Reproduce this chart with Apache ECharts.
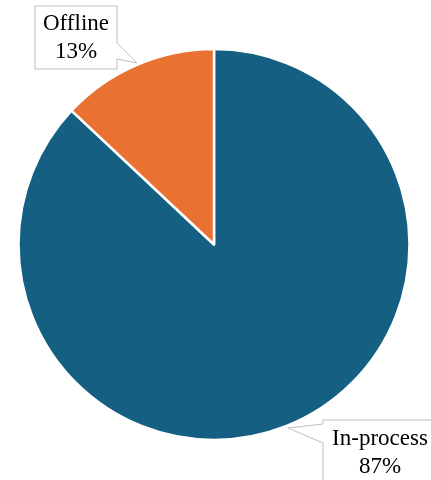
<!DOCTYPE html>
<html>
<head>
<meta charset="utf-8">
<script src="https://cdn.jsdelivr.net/npm/echarts@6/dist/echarts.min.js"></script>
<style>
  html, body { margin: 0; padding: 0; background: #fff; }
  #chart { width: 431px; height: 480px; }
</style>
</head>
<body>
<div id="chart"></div>
<script>
// Share of work by mode
const categories = ['In-process', 'Offline'];
const values = [87, 13];
const colors = ['#156082', '#E97132'];

// Label anchor points (text centres) and callout outlines
const labelCenters = [[380, 453], [76, 38]];
const callouts = [
  [[323, 420], [445, 420], [445, 495], [323, 495], [323, 443], [288, 428], [323, 424]],
  [[35, 6], [117, 6], [117, 43], [137, 63], [117, 59], [117, 69], [35, 69]]
];

const chart = echarts.init(document.getElementById('chart'), null, { renderer: 'canvas' });

chart.setOption({
  backgroundColor: '#ffffff',
  animation: false,
  graphic: callouts.map(pts => ({
    type: 'polygon',
    z: 0,
    shape: { points: pts },
    style: { fill: '#ffffff', stroke: '#bfbfbf', lineWidth: 1 }
  })),
  series: [{
    type: 'pie',
    z: 2,
    center: [214, 244.5],
    radius: 195.5,
    startAngle: 90,
    clockwise: true,
    avoidLabelOverlap: false,
    itemStyle: { borderColor: '#ffffff', borderWidth: 2.5 },
    label: {
      show: true,
      position: 'outside',
      formatter: '{b}\n{d}%',
      fontFamily: '"Liberation Serif", "Times New Roman", serif',
      fontSize: 23,
      lineHeight: 28,
      color: '#000000',
      align: 'center'
    },
    labelLine: { show: false },
    labelLayout: function (params) {
      const c = labelCenters[params.dataIndex];
      return { x: c[0], y: c[1], align: 'center', verticalAlign: 'middle' };
    },
    emphasis: { disabled: true },
    data: categories.map((name, i) => ({
      name: name,
      value: values[i],
      itemStyle: { color: colors[i] }
    }))
  }]
});
</script>
</body>
</html>
